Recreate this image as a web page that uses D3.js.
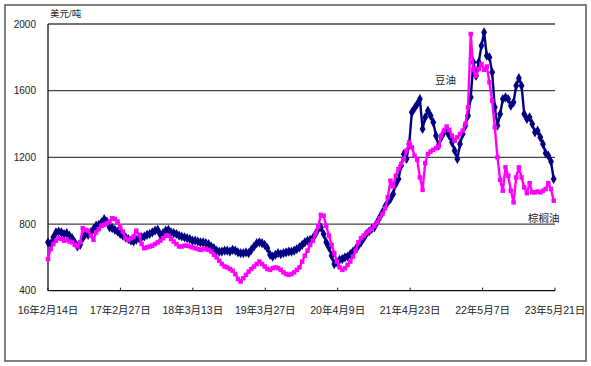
<!DOCTYPE html>
<html>
<head>
<meta charset="utf-8">
<script src="https://cdn.jsdelivr.net/npm/d3@7"></script>
<style>
  body { margin: 0; background: #fff; }
  text { font-family: "Liberation Sans", Arial, "Noto Sans CJK SC", sans-serif; fill: #222; }
</style>
</head>
<body>
<svg id="chart" width="591" height="366"></svg>
<script>
// values every 14 days starting from the first date
var startDate = new Date(2016, 1, 14);
var endDate = new Date(2023, 4, 21);
var stepDays = 14;

var soyOil = [
  690, 680, 720, 750, 755, 750, 740, 745, 730, 715,
  690, 665, 675, 715, 740, 735, 750, 770, 790, 795,
  810, 830, 815, 780, 775, 765, 755, 740, 730, 720,
  710, 700, 695, 705, 715, 720, 725, 735, 740, 750,
  760, 765, 735, 745, 760, 765, 750, 745, 740, 730,
  725, 720, 715, 710, 700, 700, 695, 690, 690, 685,
  680, 665, 655, 640, 635, 635, 640, 640, 635, 645,
  640, 630, 625, 625, 630, 625, 645, 665, 685, 690,
  685, 675, 655, 615, 605, 615, 625, 620, 625, 630,
  635, 635, 640, 650, 660, 675, 690, 700, 705, 715,
  740, 770, 780, 740, 690, 660, 610, 560, 570, 585,
  590, 600, 605, 620, 635, 650, 670, 690, 715, 740,
  755, 770, 780, 810, 840, 870, 905, 930, 950, 980,
  1040, 1070, 1150, 1220, 1190, 1280, 1470, 1495, 1520, 1550,
  1370, 1440, 1480, 1450, 1410, 1330, 1270, 1320, 1350, 1360,
  1330, 1290, 1240, 1190, 1280, 1340, 1390, 1450, 1560, 1770,
  1690, 1770, 1870, 1950, 1810, 1800, 1710, 1500, 1390, 1460,
  1550, 1560, 1550, 1510, 1530, 1630, 1675, 1630, 1460, 1430,
  1440, 1400, 1350, 1360, 1320, 1280, 1225, 1210, 1175, 1070
];

var palmOil = [
  590, 650, 680, 700, 715, 710, 700, 705, 695, 690,
  675, 665, 690, 775, 765, 760, 730, 705, 750, 770,
  790, 795, 805, 815, 835, 830, 815, 780, 755, 715,
  705, 715, 725, 760, 735, 680, 655, 660, 665, 670,
  680, 690, 700, 715, 730, 730, 710, 695, 680, 665,
  665, 670, 670, 665, 660, 655, 650, 645, 650, 650,
  645, 635, 615, 600, 580, 560, 545, 540, 530, 520,
  500, 470, 455, 475, 495, 515, 530, 545, 560, 575,
  560, 545, 530, 525, 535, 540, 535, 525, 510, 500,
  495, 500, 510, 525, 540, 575, 610, 640, 675, 700,
  740, 785, 855, 850, 790, 730, 675, 625, 575, 540,
  525, 535, 555, 575, 605, 640, 690, 715, 730, 745,
  760, 770, 790, 810, 835, 860, 895, 960, 1060, 1025,
  1090, 1130, 1160, 1190, 1240, 1290, 1260, 1210, 1185, 1080,
  1005, 1165, 1220, 1235, 1245, 1255, 1265, 1330, 1360, 1385,
  1365, 1330, 1300, 1320, 1340, 1360, 1400, 1500, 1940, 1725,
  1690, 1730, 1760, 1725, 1745, 1650, 1540, 1380, 1200, 1065,
  1000, 1140, 1090, 1000, 930, 1080, 1140, 1080, 1020, 985,
  1045, 990, 990, 995, 990, 1000, 1010, 1045, 1010, 940
];

var tickDates = [
  new Date(2016, 1, 14), new Date(2017, 1, 27), new Date(2018, 2, 13),
  new Date(2019, 2, 27), new Date(2020, 3, 9), new Date(2021, 3, 23),
  new Date(2022, 4, 7), new Date(2023, 4, 21)
];
var yTicks = [400, 800, 1200, 1600, 2000];

(function() {
var svg = d3.select("#chart");
var left = 48, right = 555, plotTop = 24, bottom = 290.7;

// outer frame
svg.append("rect")
    .attr("x", 5).attr("y", 5)
    .attr("width", 581).attr("height", 356)
    .attr("fill", "none")
    .attr("stroke", "#555")
    .attr("stroke-width", 1.5);

var x = d3.scaleTime().domain([startDate, endDate]).range([left, right]);
var y = d3.scaleLinear().domain([400, 2000]).range([bottom, plotTop]);

// grid lines
svg.append("g")
    .selectAll("line")
    .data(yTicks.slice(1))
    .enter()
    .append("line")
        .attr("x1", left).attr("x2", right)
        .attr("y1", function(d) { return y(d); })
        .attr("y2", function(d) { return y(d); })
        .attr("stroke", "#444")
        .attr("stroke-width", 1.3);

// y labels
svg.append("g")
    .selectAll("text")
    .data(yTicks)
    .enter()
    .append("text")
        .attr("x", 36)
        .attr("y", function(d) { return y(d) + 3.5; })
        .attr("text-anchor", "end")
        .style("font-size", "10px")
        .text(function(d) { return d; });

svg.append("text")
    .attr("x", 50).attr("y", 17)
    .style("font-size", "9.5px")
    .text("美元/吨");

// axes
svg.append("line")
    .attr("x1", left).attr("x2", left)
    .attr("y1", plotTop).attr("y2", bottom)
    .attr("stroke", "#111").attr("stroke-width", 1.3);
svg.append("line")
    .attr("x1", left).attr("x2", right)
    .attr("y1", bottom).attr("y2", bottom)
    .attr("stroke", "#111").attr("stroke-width", 1.3);

var fmt = function(d) { return (d.getFullYear() % 100) + "年" + (d.getMonth() + 1) + "月" + d.getDate() + "日"; };

var xt = svg.append("g").selectAll("g").data(tickDates).enter().append("g");
xt.append("line")
    .attr("x1", function(d) { return x(d); })
    .attr("x2", function(d) { return x(d); })
    .attr("y1", bottom).attr("y2", bottom - 3)
    .attr("stroke", "#111");
xt.append("text")
    .attr("x", function(d) { return x(d); })
    .attr("y", 314)
    .attr("text-anchor", "middle")
    .style("font-size", "10.5px")
    .text(fmt);

function series(vals, color, shape, size) {
    var pts = vals.map(function(v, i) { return [d3.timeDay.offset(startDate, i * stepDays), v]; });
    var line = d3.line()
        .x(function(d) { return x(d[0]); })
        .y(function(d) { return y(d[1]); });
    svg.append("path")
        .datum(pts)
        .attr("d", line)
        .attr("fill", "none")
        .attr("stroke", color)
        .attr("stroke-width", 2.4)
        .attr("stroke-linejoin", "round");
    svg.append("g")
        .selectAll("path")
        .data(pts)
        .enter()
        .append("path")
            .attr("transform", function(d) { return "translate(" + x(d[0]) + "," + y(d[1]) + ")"; })
            .attr("d", d3.symbol().type(shape).size(size))
            .attr("fill", color);
}

series(soyOil, "#000080", d3.symbolDiamond, 30);
series(palmOil, "#ff00ff", d3.symbolSquare, 20);

svg.append("text")
    .attr("x", 435).attr("y", 84)
    .style("font-size", "10.5px")
    .text("豆油");
svg.append("text")
    .attr("x", 528).attr("y", 222)
    .style("font-size", "10.5px")
    .text("棕榈油");
})();
</script>
</body>
</html>
